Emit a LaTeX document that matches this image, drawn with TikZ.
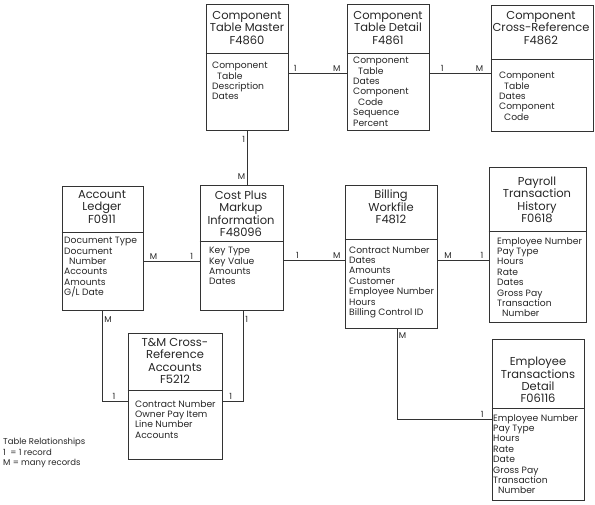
\documentclass[tikz,border=0pt]{standalone}
\usepackage{fontspec}
\setmainfont{Poppins}
\usetikzlibrary{positioning}
\tikzset{
	tbl/.style={draw=black!80, line width=0.7pt, inner sep=0pt},
	ttl/.style={align=center, font=\fontsize{11.5}{12.4}\selectfont, inner sep=0pt, text=black!85},
	fld/.style={align=left, anchor=north west, font=\fontsize{9.2}{10.4}\selectfont, inner sep=0pt, text=black!85},
	rel/.style={font=\fontsize{8.5}{8.5}\selectfont, inner sep=1.5pt, text=black!85},
	lnk/.style={draw=black!80, line width=0.7pt}
}
\newcommand{\ind}{\hspace*{5pt}}

\begin{document}
\begin{tikzpicture}[x=1pt, y=-1pt]
					\useasboundingbox (0,0) rectangle (595,504);
					%Tables
					\node[tbl, minimum width=82pt, minimum height=126pt] (ctm) at (247,67) {};
					\node[tbl, minimum width=82pt, minimum height=126pt] (ctd) at (388,67) {};
					\node[tbl, minimum width=102pt, minimum height=126pt] (ccr) at (542,68) {};
					\node[tbl, minimum width=81pt, minimum height=124pt] (al) at (102.5,248) {};
					\node[tbl, minimum width=83pt, minimum height=125pt] (cpi) at (241.5,247.5) {};
					\node[tbl, minimum width=92pt, minimum height=143pt] (bw) at (391,256.5) {};
					\node[tbl, minimum width=97pt, minimum height=155pt] (pth) at (537.5,244.5) {};
					\node[tbl, minimum width=94pt, minimum height=126pt] (tma) at (175,396) {};
					\node[tbl, minimum width=92pt, minimum height=161pt] (etd) at (538,419.5) {};

					%Dividers
					\draw[lnk] (ctm.west |- 0,53) -- (ctm.east |- 0,53);
					\draw[lnk] (ctd.west |- 0,53) -- (ctd.east |- 0,53);
					\draw[lnk] (ccr.west |- 0,59) -- (ccr.east |- 0,59);
					\draw[lnk] (al.west |- 0,232) -- (al.east |- 0,232);
					\draw[lnk] (cpi.west |- 0,241) -- (cpi.east |- 0,241);
					\draw[lnk] (bw.west |- 0,239) -- (bw.east |- 0,239);
					\draw[lnk] (pth.west |- 0,231) -- (pth.east |- 0,231);
					\draw[lnk] (tma.west |- 0,390) -- (tma.east |- 0,390);
					\draw[lnk] (etd.west |- 0,408) -- (etd.east |- 0,408);

					%Titles
					\node[ttl] (ctm-t) at (247,28) {Component\\Table Master\\F4860};
					\node[ttl] (ctd-t) at (388,28) {Component\\Table Detail\\F4861};
					\node[ttl] (ccr-t) at (541,28) {Component\\Cross-Reference\\F4862};
					\node[ttl] (al-t) at (102,207) {Account\\Ledger\\F0911};
					\node[ttl] (cpi-t) at (241,214) {Cost Plus\\Markup\\Information\\F48096};
					\node[ttl] (bw-t) at (391,207) {Billing\\Workfile\\F4812};
					\node[ttl] (pth-t) at (537,200) {Payroll\\Transaction\\History\\F0618};
					\node[ttl] (tma-t) at (175,361) {T\&M Cross-\\Reference\\Accounts\\F5212};
					\node[ttl] (etd-t) at (538,380) {Employee\\Transactions\\Detail\\F06116};

					%Fields
					\node[fld] (ctm-f) at (212,62) {Component\\\ind Table\\Description\\Dates};
					\node[fld] (ctd-f) at (353,57) {Component\\\ind Table\\Dates\\Component\\\ind Code\\Sequence\\Percent};
					\node[fld] (ccr-f) at (499,72) {Component\\\ind Table\\Dates\\Component\\\ind Code};
					\node[fld] (al-f) at (64,237) {Document Type\\Document\\\ind Number\\Accounts\\Amounts\\G/L Date};
					\node[fld] (cpi-f) at (209,247) {Key Type\\Key Value\\Amounts\\Dates};
					\node[fld] (bw-f) at (349,246) {Contract Number\\Dates\\Amounts\\Customer\\Employee Number\\Hours\\Billing Control ID};
					\node[fld] (pth-f) at (497,237) {Employee Number\\Pay Type\\Hours\\Rate\\Dates\\Gross Pay\\Transaction\\\ind Number};
					\node[fld] (tma-f) at (135,400) {Contract Number\\Owner Pay Item\\Line Number\\Accounts};
					\node[fld] (etd-f) at (493,414) {Employee Number\\Pay Type\\Hours\\Rate\\Date\\Gross Pay\\Transaction\\\ind Number};

					%Relationships
					\draw[lnk] (ctm.east |- 0,73) -- node[rel, pos=0.12, above] {1} node[rel, pos=0.83, above] {M} (ctd.west |- 0,73);
					\draw[lnk] (ctd.east |- 0,73) -- node[rel, pos=0.21, above] {1} node[rel, pos=0.82, above] {M} (ccr.west |- 0,73);
					\draw[lnk] (ctm.south) -- node[rel, pos=0.16, left] {1} node[rel, pos=0.85, left] {M} (ctm.south |- cpi.north);
					\draw[lnk] (al.east |- 0,261) -- node[rel, pos=0.18, above] {M} node[rel, pos=0.86, above] {1} (cpi.west |- 0,261);
					\draw[lnk] (cpi.east |- 0,260) -- node[rel, pos=0.23, above] {1} node[rel, pos=0.87, above] {M} (bw.west |- 0,260);
					\draw[lnk] (bw.east |- 0,260) -- node[rel, pos=0.21, above] {M} node[rel, pos=0.87, above] {1} (pth.west |- 0,260);
					\draw[lnk] (al.south) |- node[rel, pos=0.05, right] {M} node[rel, pos=0.73, above] {1} ([yshift=-5pt]tma.west);
					\draw[lnk] ([xshift=2pt]cpi.south) |- node[rel, pos=0.05, right] {1} node[rel, pos=0.8, above] {1} ([yshift=-5pt]tma.east);
					\draw[lnk] ([xshift=6pt]bw.south) |- node[rel, pos=0.04, right] {M} node[rel, pos=0.95, above] {1} (etd.west);

					%Legend
					\node[fld, font=\fontsize{8.5}{10.5}\selectfont] (legend) at (3,438) {Table Relationships\\1\ \ = 1 record\\M = many records};
				\end{tikzpicture}
\end{document}
